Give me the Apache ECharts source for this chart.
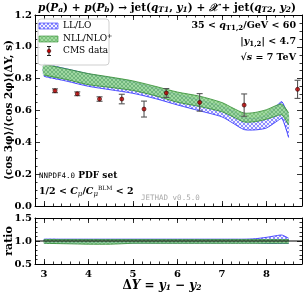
<!DOCTYPE html>
<html><head><meta charset="utf-8">
<script src="https://cdn.jsdelivr.net/npm/echarts@6/dist/echarts.min.js"></script>
<style>html,body{margin:0;padding:0;background:#fff}#c{width:306px;height:293px}</style>
</head><body><div id="c"></div>
<script>
// ---- data ----
const dY = [3.0, 3.5, 4.0, 4.5, 5.0, 5.5, 6.0, 6.5, 7.0, 7.25, 7.5, 7.75, 8.0, 8.25, 8.35, 8.5];
const nllLo = [0.823, 0.795, 0.762, 0.745, 0.726, 0.693, 0.652, 0.625, 0.592, 0.560, 0.528, 0.530, 0.545, 0.568, 0.572, 0.510];
const nllHi = [0.890, 0.862, 0.832, 0.810, 0.786, 0.752, 0.716, 0.690, 0.650, 0.615, 0.584, 0.588, 0.605, 0.635, 0.640, 0.585];
const llLo  = [0.815, 0.785, 0.752, 0.730, 0.708, 0.675, 0.635, 0.598, 0.560, 0.520, 0.480, 0.478, 0.490, 0.535, 0.550, 0.430];
const llHi  = [0.892, 0.862, 0.830, 0.805, 0.778, 0.740, 0.700, 0.665, 0.625, 0.595, 0.555, 0.550, 0.570, 0.635, 0.655, 0.560];
const rNllLo = [0.95, 0.94, 0.93, 0.93, 0.95, 0.95, 0.95, 0.95, 0.95, 0.95, 0.95, 0.95, 0.95, 0.95, 0.95, 0.95];
const rNllHi = [1.03, 1.03, 1.03, 1.03, 1.03, 1.03, 1.03, 1.03, 1.03, 1.03, 1.03, 1.03, 1.03, 1.03, 1.03, 1.03];
const rLlLo  = [0.96, 0.96, 0.96, 0.96, 0.96, 0.96, 0.96, 0.96, 0.96, 0.96, 0.96, 0.96, 0.95, 0.95, 0.95, 0.95];
const rLlHi  = [1.04, 1.04, 1.04, 1.04, 1.04, 1.04, 1.04, 1.04, 1.04, 1.04, 1.04, 1.05, 1.08, 1.12, 1.13, 1.06];
const cmsX   = [3.25, 3.75, 4.25, 4.75, 5.25, 5.75, 6.5, 7.5, 8.7];
const cmsY   = [0.724, 0.705, 0.672, 0.672, 0.609, 0.710, 0.651, 0.634, 0.733];
const cmsErr = [0.012, 0.012, 0.014, 0.030, 0.050, 0.028, 0.055, 0.070, 0.057];
const xMajor = [3, 4, 5, 6, 7, 8];

// ---- patterns ----
function hatch(bg, fg, lw) {
  const c = document.createElement('canvas'); c.width = 4; c.height = 4;
  const g = c.getContext('2d');
  if (bg) { g.fillStyle = bg; g.fillRect(0, 0, 4, 4); }
  g.strokeStyle = fg; g.lineWidth = lw;
  g.beginPath(); g.moveTo(0, 0); g.lineTo(4, 4); g.moveTo(4, 0); g.lineTo(0, 4); g.stroke();
  return c;
}
const bluePat = { image: hatch('rgba(235,235,255,0.6)', 'rgba(50,50,255,0.75)', 0.7), repeat: 'repeat' };
const greenPat = { image: hatch('rgba(145,212,145,0.85)', 'rgba(50,145,50,0.45)', 0.7), repeat: 'repeat' };

// band drawn as a polygon through the axis scales (api.coord)
function band(name, lo, hi, pat, edge, xi, yi, z) {
  return {
    type: 'custom', name, xAxisIndex: xi, yAxisIndex: yi, z, silent: true,
    data: dY.map((x, i) => [x, lo[i], hi[i]]),
    renderItem(params, api) {
      if (params.dataIndex !== 0) return null;
      const up = [], dn = [];
      for (let i = 0; i < dY.length; i++) {
        up.push(api.coord([dY[i], hi[i]]));
        dn.push(api.coord([dY[i], lo[i]]));
      }
      const poly = up.concat(dn.slice().reverse());
      return { type: 'group', children: [
        { type: 'polygon', shape: { points: poly, smooth: 0.25 }, style: { fill: pat, stroke: null } },
        { type: 'polyline', shape: { points: up, smooth: 0.25 }, style: { stroke: edge, lineWidth: 0.8, fill: null } },
        { type: 'polyline', shape: { points: dn, smooth: 0.25 }, style: { stroke: edge, lineWidth: 0.8, fill: null } }
      ] };
    }
  };
}

const SERIF = '"DejaVu Serif", serif';
const L = 35, W = 267;
const tickCommon = { inside: true, lineStyle: { color: '#000', width: 0.8 } };

function xAxes(gi, labels) {
  const base = { gridIndex: gi, type: 'value', min: 2.8, max: 8.8, splitLine: { show: false } };
  return [
    Object.assign({}, base, { position: 'bottom', axisLine: { lineStyle: { color: '#000', width: 1 } },
      axisTick: Object.assign({ customValues: xMajor, length: 5 }, tickCommon),
      axisLabel: labels ? { customValues: xMajor, color: '#000', fontFamily: SERIF, fontWeight: 'bold', fontSize: 10, margin: 5 } : { show: false } }),
    Object.assign({}, base, { position: 'bottom', interval: 0.2, axisLine: { show: false },
      axisTick: Object.assign({ length: 2.5 }, tickCommon), axisLabel: { show: false } }),
    Object.assign({}, base, { position: 'top', axisLine: { lineStyle: { color: '#000', width: 1 } },
      axisTick: Object.assign({ customValues: xMajor, length: 5 }, tickCommon), axisLabel: { show: false } }),
    Object.assign({}, base, { position: 'top', interval: 0.2, axisLine: { show: false },
      axisTick: Object.assign({ length: 2.5 }, tickCommon), axisLabel: { show: false } })
  ];
}
function yAxes(gi, min, max, interval, minorSplit) {
  const base = { gridIndex: gi, type: 'value', min, max, interval, splitLine: { show: false },
    minorTick: { show: true, splitNumber: minorSplit, length: 2.5, lineStyle: { color: '#000', width: 0.8 } } };
  return [
    Object.assign({}, base, { position: 'left', axisLine: { show: true, lineStyle: { color: '#000', width: 1 } },
      axisTick: Object.assign({ length: 5 }, tickCommon),
      axisLabel: { color: '#000', fontFamily: SERIF, fontWeight: 'bold', fontSize: 10, margin: 3, formatter: v => v.toFixed(1) } }),
    Object.assign({}, base, { position: 'right', axisLine: { show: true, lineStyle: { color: '#000', width: 1 } },
      axisTick: Object.assign({ length: 5 }, tickCommon), axisLabel: { show: false } })
  ];
}

const chart = echarts.init(document.getElementById('c'), null, { renderer: 'canvas' });
const series = [
  band('LL/LO', llLo, llHi, bluePat, '#2828ff', 0, 0, 2),
  band('NLL/NLO+', nllLo, nllHi, greenPat, '#2e8b2e', 0, 0, 3),
  band('rLL', rLlLo, rLlHi, bluePat, '#2828ff', 4, 2, 2),
  band('rNLL', rNllLo, rNllHi, greenPat, '#2e8b2e', 4, 2, 3),
  { type: 'line', data: [[2.8, 1], [8.8, 1]], xAxisIndex: 4, yAxisIndex: 2, symbol: 'none',
    lineStyle: { color: '#000', width: 1 }, z: 5, silent: true },
  { type: 'custom', xAxisIndex: 0, yAxisIndex: 0, z: 6, silent: true,
    data: cmsX.map((x, i) => [x, cmsY[i], cmsErr[i]]),
    renderItem(params, api) {
      const x = api.value(0), y = api.value(1), e = api.value(2);
      const lo = api.coord([x, y - e]), hi = api.coord([x, y + e]);
      const st = { stroke: '#555', lineWidth: 1.1 };
      return { type: 'group', children: [
        { type: 'line', shape: { x1: lo[0], y1: lo[1], x2: hi[0], y2: hi[1] }, style: st },
        { type: 'line', shape: { x1: lo[0] - 3, y1: lo[1], x2: lo[0] + 3, y2: lo[1] }, style: st },
        { type: 'line', shape: { x1: hi[0] - 3, y1: hi[1], x2: hi[0] + 3, y2: hi[1] }, style: st }
      ] };
    } },
  { type: 'scatter', name: 'CMS data', xAxisIndex: 0, yAxisIndex: 0, z: 7, silent: true,
    data: cmsX.map((x, i) => [x, cmsY[i]]), symbol: 'circle', symbolSize: 4,
    itemStyle: { color: '#c00000', borderColor: '#300', borderWidth: 0.8 } }
];

const sub = { fontSize: 7.5, fontWeight: 'bold', fontStyle: 'italic', fontFamily: SERIF, padding: [5, 0, 0, 0] };
const it = { fontStyle: 'italic', fontWeight: 'bold', fontFamily: SERIF, fontSize: 10.5 };
const rm = { fontWeight: 'bold', fontFamily: SERIF, fontSize: 10.5 };

const txt = (x, y, text, style) => ({ type: 'text', x, y, z: 20, style: Object.assign({ text, fill: '#000', fontFamily: SERIF, fontSize: 9, verticalAlign: 'middle' }, style) });
const annR = { fontFamily: SERIF, fontSize: 9.5, fontWeight: 'bold' };
const annI = { fontFamily: SERIF, fontSize: 9.5, fontStyle: 'italic', fontWeight: 'bold' };
const annS = { fontFamily: SERIF, fontSize: 7, fontWeight: 'bold', padding: [4, 0, 0, 0] };

chart.setOption({
  animation: false,
  grid: [
    { left: L, top: 15, width: W, height: 191 },
    { left: L, top: 218, width: W, height: 46 }
  ],
  xAxis: xAxes(0, false).concat(xAxes(1, true)),
  yAxis: yAxes(0, 0, 1.2, 0.2, 4).concat(yAxes(1, 0.5, 1.5, 0.5, 5)),
  series,
  graphic: [
    { type: 'text', x: 167, y: 8, z: 20, style: { text:
      '{i|p}{r|(}{i|P}{s|a}{r|) + }{i|p}{r|(}{i|P}{s|b}{r|) → jet(}{i|q}{s|T1}{r|, }{i|y}{s|1}{r|) + }{i|𝒳}{r| + jet(}{i|q}{s|T2}{r|, }{i|y}{s|2}{r|)}',
      align: 'center', verticalAlign: 'middle', rich: { i: it, r: rm, s: sub } } },
    { type: 'text', x: 9, y: 110, rotation: Math.PI / 2, z: 20, style: {
      text: '⟨cos 3φ⟩/⟨cos 2φ⟩(ΔY, s)', align: 'center', verticalAlign: 'middle',
      fontFamily: SERIF, fontWeight: 'bold', fontSize: 10.5, fill: '#000' } },
    { type: 'text', x: 9, y: 241, rotation: Math.PI / 2, z: 20, style: {
      text: 'ratio', align: 'center', verticalAlign: 'middle',
      fontFamily: SERIF, fontWeight: 'bold', fontSize: 11, fill: '#000' } },
    { type: 'text', x: 162, y: 286, z: 20, style: {
      text: '{r|Δ}{i|Y}{r| = }{i|y}{s|1}{r| − }{i|y}{s|2}', align: 'center', verticalAlign: 'middle',
      rich: { i: Object.assign({}, it, { fontSize: 12 }), r: Object.assign({}, rm, { fontSize: 12 }), s: sub } } },
    { type: 'rect', z: 15, shape: { x: 38, y: 19, width: 71, height: 46, r: 3 },
      style: { fill: 'rgba(255,255,255,0.85)', stroke: '#cfcfcf', lineWidth: 1 } },
    { type: 'rect', z: 16, shape: { x: 39, y: 23, width: 19, height: 6 }, style: { fill: bluePat, stroke: '#2828ff', lineWidth: 0.6 } },
    { type: 'rect', z: 16, shape: { x: 39, y: 36, width: 19, height: 6 }, style: { fill: greenPat, stroke: '#2e8b2e', lineWidth: 0.6 } },
    { type: 'line', z: 16, shape: { x1: 49, y1: 46.5, x2: 49, y2: 55.5 }, style: { stroke: '#222', lineWidth: 1 } },
    { type: 'line', z: 16, shape: { x1: 47, y1: 46.5, x2: 51, y2: 46.5 }, style: { stroke: '#222', lineWidth: 1 } },
    { type: 'line', z: 16, shape: { x1: 47, y1: 55.5, x2: 51, y2: 55.5 }, style: { stroke: '#222', lineWidth: 1 } },
    { type: 'circle', z: 17, shape: { cx: 49, cy: 51, r: 1.8 }, style: { fill: '#c00000', stroke: '#300', lineWidth: 0.6 } },
    txt(63, 26, 'LL/LO', {}),
    txt(63, 39, '{r|NLL/NLO}{u|+}', { rich: { r: { fontFamily: SERIF, fontSize: 9 }, u: { fontFamily: SERIF, fontSize: 6.5, padding: [0, 0, 6, 0] } } }),
    txt(63, 51, 'CMS data', {}),
    txt(296, 26, '{r|35 < }{i|q}{s|T1,2}{r|/GeV < 60}', { align: 'right', rich: { r: annR, i: annI, s: annS } }),
    txt(296, 42, '{r||}{i|y}{s|1,2}{r|| < 4.7}', { align: 'right', rich: { r: annR, i: annI, s: annS } }),
    txt(296, 58, '{r|√}{i|s}{r| = 7 TeV}', { align: 'right', rich: { r: annR, i: annI } }),
    txt(39, 176, '{m|NNPDF4.0}{r| PDF set}', { rich: { m: { fontFamily: '"DejaVu Sans Mono", monospace', fontSize: 7.5 }, r: { fontFamily: SERIF, fontSize: 9, fontWeight: 'bold' } } }),
    txt(39, 192, '{r|1/2 < }{i|C}{s|μ}{r|/}{i|C}{s|μ}{u|BLM}{r| < 2}', { rich: {
      r: annR, i: annI,
      s: { fontFamily: SERIF, fontSize: 7, fontStyle: 'italic', padding: [5, 0, 0, 0] },
      u: { fontFamily: SERIF, fontSize: 6, padding: [0, 0, 7, 0] } } }),
    txt(141, 198, 'JETHAD v0.5.0', { fontFamily: '"DejaVu Sans Mono", monospace', fontSize: 7.5, fill: '#aaa' })
  ]
});
</script></body></html>
